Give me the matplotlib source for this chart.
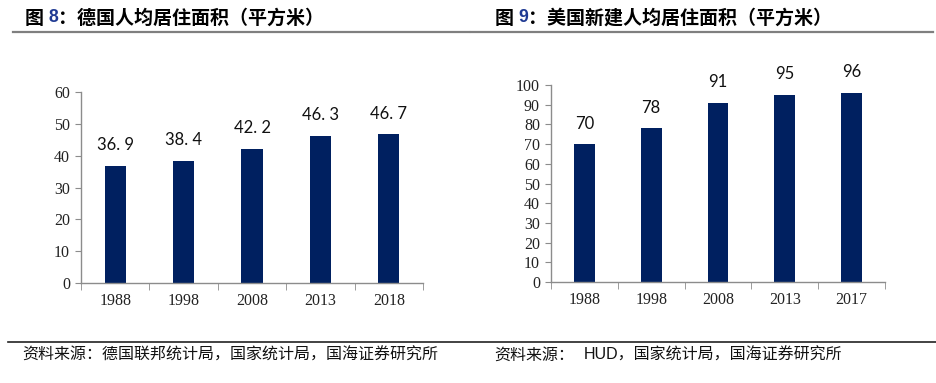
import matplotlib
matplotlib.use("Agg")
import matplotlib.pyplot as plt
from matplotlib.lines import Line2D
import numpy as np

plt.rcParams['font.family'] = ['Noto Sans CJK SC', 'DejaVu Sans']

# Data
de_years = ["1988", "1998", "2008", "2013", "2018"]
de_values = [36.9, 38.4, 42.2, 46.3, 46.7]
us_years = ["1988", "1998", "2008", "2013", "2017"]
us_values = [70, 78, 91, 95, 96]

title_left_num = "8"
title_left_text = "德国人均居住面积（平方米）"
title_right_num = "9"
title_right_text = "美国新建人均居住面积（平方米）"
source_left = "资料来源：德国联邦统计局，国家统计局，国海证券研究所"
source_right_a = "资料来源："
source_right_b = "HUD，国家统计局，国海证券研究所"

BAR = "#002060"
AX = "#8c8c8c"
W, H = 936, 383

fig = plt.figure(figsize=(W / 100, H / 100), dpi=100)


def fx(px):
    return px / W


def fy(py):
    return 1 - py / H


def make_axes(rect, cats, vals, ymax, ystep, labels):
    ax = fig.add_axes(rect)
    x = np.arange(len(cats))
    ax.bar(x, vals, width=0.31, color=BAR, zorder=2)
    ax.set_xlim(-0.5, len(cats) - 0.5)
    ax.set_ylim(0, ymax)
    ax.set_yticks(np.arange(0, ymax + 0.1, ystep))
    ax.set_xticks(x)
    ax.set_xticklabels(cats)
    ax.set_xticks(np.arange(-0.5, len(cats)), minor=True)
    ax.tick_params(axis='x', which='major', length=0, pad=7)
    ax.tick_params(axis='x', which='minor', length=5, color=AX, direction='out')
    ax.tick_params(axis='y', length=4, color=AX, direction='out', pad=4)
    for lab in ax.get_xticklabels() + ax.get_yticklabels():
        lab.set_fontfamily('Liberation Serif')
        lab.set_fontsize(11.5)
        lab.set_color('#222222')
    for s in ['top', 'right']:
        ax.spines[s].set_visible(False)
    for s in ['left', 'bottom']:
        ax.spines[s].set_color(AX)
        ax.spines[s].set_linewidth(1)
    for xi, v, lab in zip(x, vals, labels):
        ax.annotate(lab, (xi, v), xytext=(0, 9), textcoords='offset points',
                    ha='center', va='bottom', fontsize=12, fontfamily='Lato',
                    color='#111111')
    return ax


de_labels = [f"{v:.1f}".replace('.', '. ') for v in de_values]
us_labels = [f"{v:d}" for v in us_values]

make_axes([fx(81), fy(283), fx(423) - fx(81), fy(92) - fy(283)],
          de_years, de_values, 60, 10, de_labels)
make_axes([fx(551), fy(282), fx(885) - fx(551), fy(85) - fy(282)],
          us_years, us_values, 100, 10, us_labels)

TFS = 13.7


def title(xpx, num, text):
    t1 = fig.text(fx(xpx), fy(18), "图 ", fontsize=TFS, fontweight='heavy',
                  va='center', ha='left', color='black')
    fig.canvas.draw()
    bb = t1.get_window_extent()
    t2 = fig.text(bb.x1 / W, fy(18), num, fontsize=TFS - 1, fontweight='bold',
                  va='center', ha='left', color='#1f3a93', fontfamily='Liberation Sans')
    bb2 = t2.get_window_extent()
    fig.text(bb2.x1 / W, fy(18), "：" + text, fontsize=TFS, fontweight='heavy',
             va='center', ha='left', color='black')


title(25, title_left_num, title_left_text)
title(495, title_right_num, title_right_text)

# Title underlines
fig.add_artist(Line2D([fx(13), fx(469)], [fy(32), fy(32)], color='#7f7f7f', lw=1.6))
fig.add_artist(Line2D([fx(471), fx(933)], [fy(32), fy(32)], color='#7f7f7f', lw=1.6))

# Bottom line
fig.add_artist(Line2D([fx(8), fx(936)], [fy(342), fy(342)], color='#222222', lw=1.2))

# Sources
SFS = 11.5
fig.text(fx(22), fy(355), source_left, fontsize=SFS, va='center', ha='left', color='#111111')
ta = fig.text(fx(494), fy(355), source_right_a, fontsize=SFS, va='center', ha='left', color='#111111')
fig.canvas.draw()
bba = ta.get_window_extent()
fig.text(bba.x1 / W + fx(10), fy(355), source_right_b, fontsize=SFS, va='center', ha='left',
         color='#111111', fontfamily=['Liberation Sans', 'Noto Sans CJK SC'])

fig.savefig("out.png", dpi=100)
